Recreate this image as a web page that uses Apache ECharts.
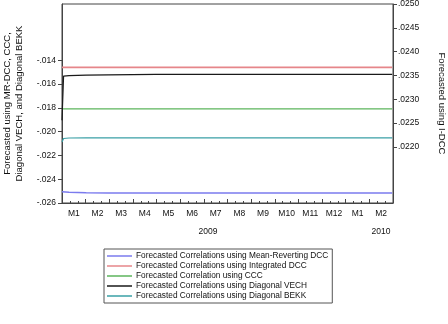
<!DOCTYPE html>
<html>
<head>
<meta charset="utf-8">
<script src="https://cdn.jsdelivr.net/npm/echarts@6/dist/echarts.min.js"></script>
<style>
  html, body { margin: 0; padding: 0; background: #fff; }
  #chart { width: 448px; height: 324px; }
</style>
</head>
<body>
<div id="chart"></div>
<script type="text/javascript">
    // months shown on the axis (Jan 2009 .. Feb 2010)
    var months = ['M1', 'M2', 'M3', 'M4', 'M5', 'M6', 'M7', 'M8', 'M9', 'M10', 'M11', 'M12', 'M1', 'M2'];

    // sample dates for the forecast paths
    var dates = ['2009-01-01', '2009-01-03', '2009-01-10', '2009-02-01', '2009-03-01', '2009-04-01',
                 '2009-05-01', '2009-06-01', '2009-07-01', '2009-08-01', '2009-09-01', '2009-10-01',
                 '2009-11-01', '2009-12-01', '2010-01-01', '2010-02-01', '2010-02-28'];

    var mrDcc = [-0.02506, -0.02508, -0.02510, -0.02513, -0.02515, -0.02516, -0.02516, -0.02516, -0.02516,
                 -0.02516, -0.02516, -0.02516, -0.02516, -0.02516, -0.02516, -0.02516, -0.02516];
    var iDcc = [0.02367, 0.02367, 0.02367, 0.02367, 0.02367, 0.02367, 0.02367, 0.02367, 0.02367,
                0.02367, 0.02367, 0.02367, 0.02367, 0.02367, 0.02367, 0.02367, 0.02367];
    var ccc = [-0.01810, -0.01810, -0.01810, -0.01810, -0.01810, -0.01810, -0.01810, -0.01810, -0.01810,
               -0.01810, -0.01810, -0.01810, -0.01810, -0.01810, -0.01810, -0.01810, -0.01810];
    var vech = [-0.01904, -0.01534, -0.01530, -0.01526, -0.01523, -0.01521, -0.01520, -0.01520, -0.01520,
                -0.01520, -0.01520, -0.01520, -0.01520, -0.01520, -0.01520, -0.01520, -0.01520];
    var bekk = [-0.02087, -0.02058, -0.02054, -0.02052, -0.02052, -0.02052, -0.02052, -0.02052, -0.02052,
                -0.02052, -0.02052, -0.02052, -0.02052, -0.02052, -0.02052, -0.02052, -0.02052];

    var leftTicks = [-0.026, -0.024, -0.022, -0.020, -0.018, -0.016, -0.014];
    var rightTicks = [0.0220, 0.0225, 0.0230, 0.0235, 0.0240, 0.0245, 0.0250];

    var names = [
        'Forecasted Correlations using Mean-Reverting DCC',
        'Forecasted Correlations using Integrated DCC',
        'Forecasted Correlation using CCC',
        'Forecasted Correlations using Diagonal VECH',
        'Forecasted Correlations using Diagonal BEKK'
    ];

    function pairs(vals) {
        return dates.map(function (d, i) { return [d, vals[i]]; });
    }

    var axisColor = '#444';
    var font = 'Liberation Sans, Arial, sans-serif';

    var myChart = echarts.init(document.getElementById('chart'));
    var option = {
        backgroundColor: '#fff',
        animation: false,
        textStyle: { fontFamily: font },
        grid: {
            left: 62, right: 55, top: 4, bottom: 121,
            outerBoundsMode: 'none',
            containLabel: false,
            show: true, borderColor: axisColor, borderWidth: 1
        },
        legend: {
            orient: 'vertical',
            left: 104, top: 249,
            padding: [3, 4, 3, 3],
            itemGap: 2,
            itemWidth: 25,
            itemHeight: 1.5,
            borderColor: '#555',
            borderWidth: 1,
            icon: 'rect',
            textStyle: { fontSize: 8.3, color: '#111', fontFamily: font, padding: [0, 0, 0, -1] },
            data: names
        },
        graphic: [
            { type: 'text', x: 208, y: 232, style: { text: '2009', fontSize: 8.5, fontFamily: font, fill: '#111', align: 'center', verticalAlign: 'middle' } },
            { type: 'text', x: 381, y: 232, style: { text: '2010', fontSize: 8.5, fontFamily: font, fill: '#111', align: 'center', verticalAlign: 'middle' } }
        ],
        xAxis: [
            {
                type: 'category',
                position: 'bottom',
                data: months,
                boundaryGap: true,
                axisLine: { lineStyle: { color: axisColor } },
                axisTick: { show: false },
                axisLabel: { fontSize: 8.5, color: '#111', margin: 6, interval: 0 }
            },
            {
                type: 'value',
                position: 'bottom',
                min: 0, max: 14, interval: 1,
                axisLine: { show: false },
                axisLabel: { show: false },
                splitLine: { show: false },
                axisTick: { inside: true, length: 4, lineStyle: { color: axisColor } },
                minorTick: { show: true, splitNumber: 3, length: 2, lineStyle: { color: axisColor } }
            },
            {
                type: 'time',
                min: '2009-01-01', max: '2010-03-01',
                show: false
            }
        ],
        yAxis: [
            {
                type: 'value',
                min: -0.026, max: -0.00928,
                name: 'Forecasted using MR-DCC, CCC,\nDiagonal VECH, and Diagonal BEKK',
                nameLocation: 'middle',
                nameGap: 30,
                nameTextStyle: { fontSize: 9.5, color: '#111', lineHeight: 12 },
                axisLine: { show: true, lineStyle: { color: axisColor } },
                axisTick: { show: true, length: 4, customValues: leftTicks, lineStyle: { color: axisColor } },
                axisLabel: {
                    fontSize: 8.5, color: '#111', margin: 6, customValues: leftTicks,
                    formatter: function (v) { return v.toFixed(3).replace('0.', '.'); }
                },
                splitLine: { show: false }
            },
            {
                type: 'value',
                position: 'right',
                min: 0.02082, max: 0.0250,
                name: 'Forecasted using I-DCC',
                nameLocation: 'middle',
                nameGap: 44,
                nameRotate: -90,
                nameTextStyle: { fontSize: 9.5, color: '#111' },
                axisLine: { show: true, lineStyle: { color: axisColor } },
                axisTick: { show: true, length: 4, customValues: rightTicks, lineStyle: { color: axisColor } },
                axisLabel: {
                    fontSize: 8.5, color: '#111', margin: 5, customValues: rightTicks,
                    formatter: function (v) { return v.toFixed(4).replace('0.', '.'); }
                },
                splitLine: { show: false }
            }
        ],
        series: [
            { name: names[0], type: 'line', xAxisIndex: 2, yAxisIndex: 0, data: pairs(mrDcc), showSymbol: false, color: '#7b7bee', lineStyle: { width: 1.5 } },
            { name: names[1], type: 'line', xAxisIndex: 2, yAxisIndex: 1, data: pairs(iDcc), showSymbol: false, color: '#e6868a', lineStyle: { width: 1.8 } },
            { name: names[2], type: 'line', xAxisIndex: 2, yAxisIndex: 0, data: pairs(ccc), showSymbol: false, color: '#5cb55c', lineStyle: { width: 1.2 } },
            { name: names[3], type: 'line', xAxisIndex: 2, yAxisIndex: 0, data: pairs(vech), showSymbol: false, color: '#1a1a1a', lineStyle: { width: 1.2 } },
            { name: names[4], type: 'line', xAxisIndex: 2, yAxisIndex: 0, data: pairs(bekk), showSymbol: false, color: '#3aa0a6', lineStyle: { width: 1.2 } }
        ]
    };

    myChart.setOption(option);
</script>
</body>
</html>
